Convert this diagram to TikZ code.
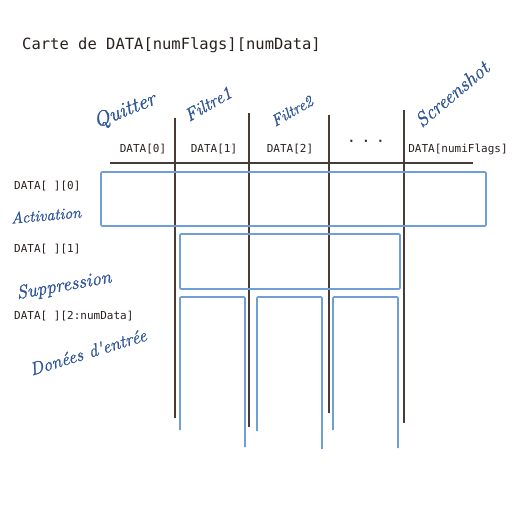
\documentclass[tikz,border=0pt]{standalone}
\usepackage{fontspec}
\setmonofont{DejaVu Sans Mono}
\newfontfamily\handfont{Latin Modern Roman}[FakeBold=1.2]
\usetikzlibrary{positioning}
\definecolor{gridbrown}{HTML}{4A3B37}
\definecolor{boxblue}{HTML}{6F9FD6}
\definecolor{inkblue}{HTML}{2F5597}
\tikzset{
	col/.style={draw=gridbrown, line width=1.3pt},
	zone/.style={draw=boxblue, line width=1.6pt, rounded corners=1pt},
	lbl/.style={font=\ttfamily\fontsize{11}{13}\selectfont, text=gridbrown!55!black, inner sep=0pt},
	hand/.style={text=inkblue, font=\handfont\itshape\fontsize{18}{20}\selectfont, inner sep=0pt}
}

\begin{document}
\begin{tikzpicture}[x=1pt, y=-1pt]
		\useasboundingbox (0,0) rectangle (512,512);
		\node[lbl, font=\ttfamily\fontsize{15.5}{18}\selectfont, anchor=west] (title) at (22,45) {Carte de DATA[numFlags][numData]};
		
		% colonnes
		\draw[col] (110,163) -- (473,163);
		\draw[col] (175,118) -- (175,418);
		\draw[col] (249,113) -- (249,427);
		\draw[col] (329,115) -- (329,413);
		\draw[col] (404,110) -- (404,423);
		
		\node[lbl] (d0) at (143,149) {DATA[0]};
		\node[lbl] (d1) at (214,149) {DATA[1]};
		\node[lbl] (d2) at (290,149) {DATA[2]};
		\node[lbl, font=\ttfamily\bfseries\fontsize{12}{14}\selectfont] (dots) at (366,143) {·~·~·};
		\node[lbl] (dn) at (458,149) {DATA[numiFlags]};
		
		% zones
		\draw[zone] (101,172) rectangle (486,226);
		\draw[zone] (180,234) rectangle (400,289);
		\draw[zone] (180,430) -- (180,297) -- (245,297) -- (245,447);
		\draw[zone] (257,431) -- (257,297) -- (322,297) -- (322,449);
		\draw[zone] (333,430) -- (333,297) -- (398,297) -- (398,448);
		
		\node[lbl, anchor=west] (r0) at (14,186) {DATA[ ][0]};
		\node[lbl, anchor=west] (r1) at (14,249) {DATA[ ][1]};
		\node[lbl, anchor=west] (r2) at (14,316) {DATA[ ][2:numData]};
		
		% annotations
		\node[hand, rotate=22, font=\handfont\itshape\fontsize{21}{24}\selectfont] (quit) at (125,111) {Quitter};
		\node[hand, rotate=30] (f1) at (208,104) {Filtre1};
		\node[hand, rotate=30, font=\handfont\itshape\fontsize{16}{18}\selectfont] (f2) at (292,111) {Filtre2};
		\node[hand, rotate=40, font=\handfont\itshape\fontsize{20}{22}\selectfont] (shot) at (452,94) {Screenshot};
		\node[hand, rotate=5, font=\handfont\itshape\fontsize{16}{18}\selectfont] (act) at (46,215) {Activation};
		\node[hand, rotate=10, font=\handfont\itshape\fontsize{19}{21}\selectfont] (supp) at (64,286) {Suppression};
		\node[hand, rotate=17] (don) at (88,352) {Donées d'entrée};
\end{tikzpicture}
\end{document}
